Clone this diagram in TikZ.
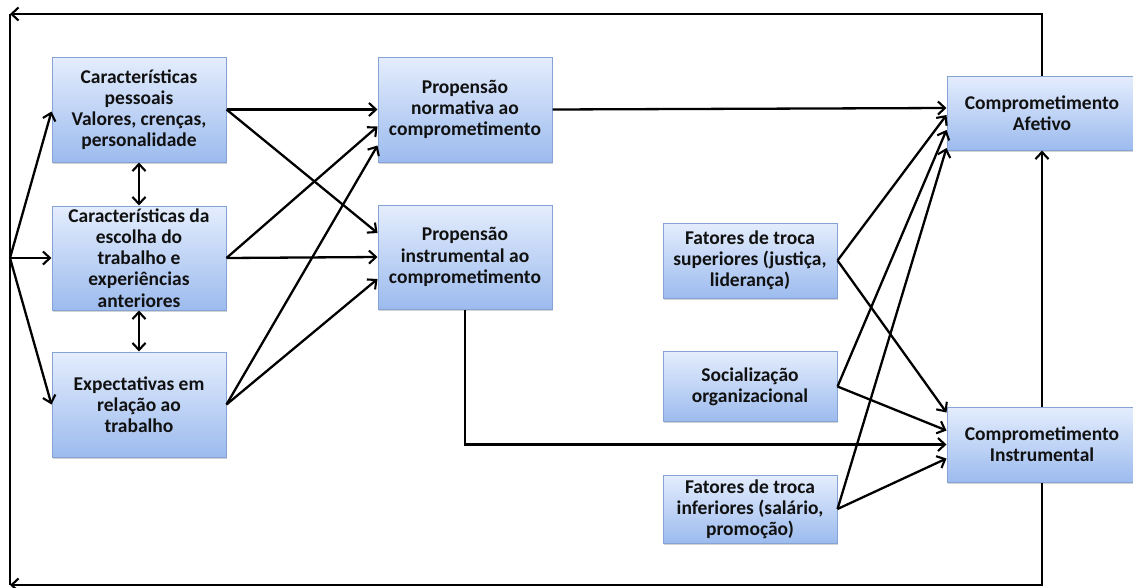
\documentclass[tikz,border=0pt]{standalone}
\usepackage{fontspec}
\setmainfont{Carlito}
\usetikzlibrary{arrows.meta,calc,shadows}
\begin{document}
\begin{tikzpicture}[x=1pt,y=-1pt,
  box/.style={rectangle, draw=boxline, line width=1pt,
    top color=boxtop, bottom color=boxbot,
    drop shadow={opacity=0.35, shadow xshift=1.2pt, shadow yshift=-1.8pt},
    align=center, inner sep=2pt,
    font=\fontsize{19.5}{21.2}\selectfont\bfseries, text=textcol},
  link/.style={line width=2.3pt, draw=black},
  arr/.style={link, -{Straight Barb[length=7pt,width=13pt,line width=2.1pt]}},
  dbl/.style={link, {Straight Barb[length=7pt,width=13pt,line width=2.1pt]}-{Straight Barb[length=7pt,width=13pt,line width=2.1pt]}}]
\definecolor{boxtop}{HTML}{E4EDFD}
\definecolor{boxbot}{HTML}{9CBBEE}
\definecolor{boxline}{HTML}{86A3D6}
\definecolor{textcol}{HTML}{111111}
\useasboundingbox (0,0) rectangle (1133,587);

% left column
\node[box, minimum width=174pt, minimum height=105pt] (CP) at (139,109.5)
  {Características\\pessoais\\Valores, crenças,\\personalidade};
\node[box, minimum width=174pt, minimum height=104pt] (CE) at (139,258)
  {Características da\\escolha do\\trabalho e\\experiências\\anteriores};
\node[box, minimum width=174pt, minimum height=105pt] (EX) at (139,404.5)
  {Expectativas em\\relação ao\\trabalho};

% propensities
\node[box, minimum width=174pt, minimum height=105pt] (PN) at (465,109.5)
  {Propensão\\normativa ao\\comprometimento};
\node[box, minimum width=174pt, minimum height=104pt] (PI) at (465,257)
  {Propensão\\instrumental ao\\comprometimento};

% exchange factors
\node[box, minimum width=174pt, minimum height=75pt] (FS) at (750,260.5)
  {Fatores de troca\\superiores (justiça,\\liderança)};
\node[box, minimum width=174pt, minimum height=70pt] (SO) at (750,386.5)
  {Socialização\\organizacional};
\node[box, minimum width=174pt, minimum height=68pt] (FI) at (750,509)
  {Fatores de troca\\inferiores (salário,\\promoção)};

% outcomes
\node[box, minimum width=190pt, minimum height=74pt] (CA) at (1042,113)
  {Comprometimento\\Afetivo};
\node[box, minimum width=190pt, minimum height=75pt] (CI) at (1042,444.5)
  {Comprometimento\\Instrumental};

% feedback frame
\coordinate (tl) at (10,14);
\coordinate (bl) at (10,585);
\coordinate (hub) at (10,258);
\draw[arr] (CA.north) -- (CA.north |- tl) -- (tl);
\draw[arr] (CI.south) -- (CI.south |- bl) -- (bl);
\draw[link] (tl) -- (bl);

% from the frame into the left column
\draw[arr] (hub) -- ($(CP.west)+(0,2)$);
\draw[arr] (hub) -- (CE.west);
\draw[arr] (hub) -- (EX.west);
\draw[dbl] (CP.south) -- (CE.north);
\draw[dbl] (CE.south) -- (EX.north);

% left column to propensities
\draw[arr] (CP.east) -- (PN.west);
\draw[arr] (CP.east) -- ($(PI.west)+(0,-24)$);
\draw[arr] (CE.east) -- ($(PN.west)+(0,17)$);
\draw[arr] (CE.east) -- (PI.west);
\draw[arr] (EX.east) -- ($(PN.west)+(0,36)$);
\draw[arr] (EX.east) -- ($(PI.west)+(0,22)$);

% propensities to outcomes
\draw[arr] (PN.east) -- ($(CA.west)+(0,-5)$);
\draw[arr] (PI.south) -- (PI.south |- CI.west) -- (CI.west);

% exchange factors to outcomes
\draw[arr] (FS.east) -- ($(CA.west)+(0,2)$);
\draw[arr] (FS.east) -- ($(CI.west)+(0,-32)$);
\draw[arr] (SO.east) -- ($(CA.west)+(0,17)$);
\draw[arr] (SO.east) -- ($(CI.west)+(0,-14)$);
\draw[arr] (FI.east) -- ($(CA.west)+(0,35)$);
\draw[arr] (FI.east) -- ($(CI.west)+(0,14)$);

\draw[arr] (CI.north) -- (CA.south);
\end{tikzpicture}
\end{document}
